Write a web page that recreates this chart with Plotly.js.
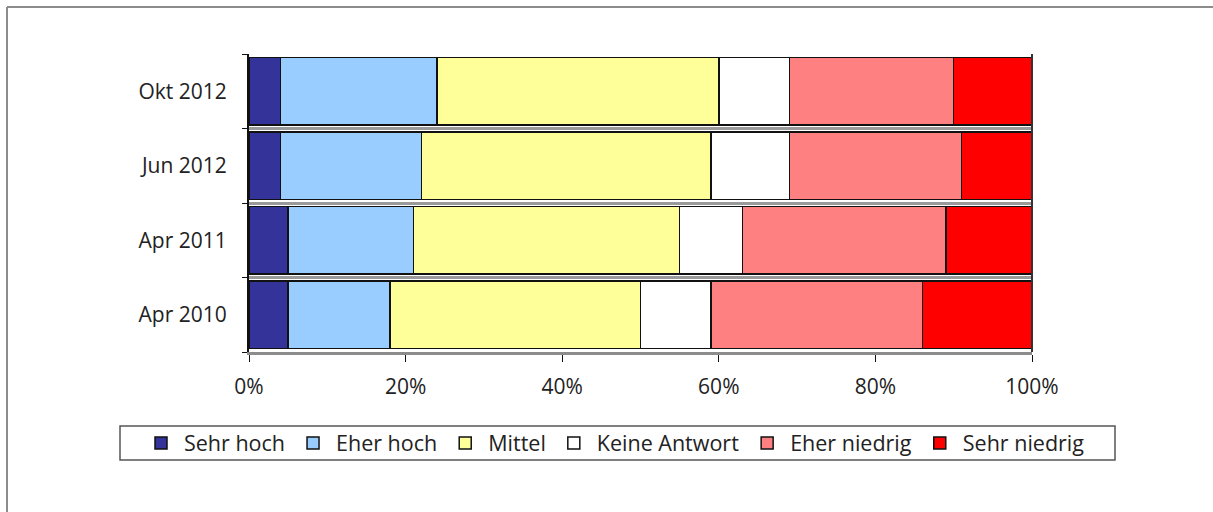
<!DOCTYPE html>
<html>
<head>
<meta charset="utf-8">
<script src="https://cdn.plot.ly/plotly-3.0.1.min.js"></script>
<style>
html,body{margin:0;padding:0;background:#fff;}
#chart{width:1213px;height:512px;}
</style>
</head>
<body>
<div id="chart"></div>
<script>
const categories = ["Apr 2010", "Apr 2011", "Jun 2012", "Okt 2012"];
const seriesNames = ["Sehr hoch", "Eher hoch", "Mittel", "Keine Antwort", "Eher niedrig", "Sehr niedrig"];
const sehrHoch    = [5, 5, 4, 4];
const eherHoch    = [13, 16, 18, 20];
const mittel      = [32, 34, 37, 36];
const keineAntwort= [9, 8, 10, 9];
const eherNiedrig = [27, 26, 22, 21];
const sehrNiedrig = [14, 11, 9, 10];
const tickVals = [0, 20, 40, 60, 80, 100];
const tickText = ["0%", "20%", "40%", "60%", "80%", "100%"];

const seriesValues = [sehrHoch, eherHoch, mittel, keineAntwort, eherNiedrig, sehrNiedrig];
const colors = ["#333399", "#99CCFF", "#FFFF99", "#FFFFFF", "#FF8080", "#FF0000"];

const traces = seriesNames.map((name, i) => ({
  type: "bar",
  orientation: "h",
  name: name,
  y: categories,
  x: seriesValues[i],
  marker: {color: colors[i], line: {color: "#111", width: 1.5}},
  hoverinfo: "name+x"
}));

// plot area: x 249..1032, y 54..352
const W = 1213, H = 512;
const L = 249, R = 1032, T = 54, B = 352;
const px = v => (v - L) / (R - L);
const py = v => (B - v) / (B - T);

const layout = {
  width: W, height: H,
  margin: {l: L, r: W - R, t: T, b: H - B, pad: 0},
  paper_bgcolor: "#fff",
  plot_bgcolor: "#fff",
  barmode: "stack",
  bargap: 0.1,
  showlegend: true,
  font: {family: "Open Sans, sans-serif", size: 21, color: "#222"},
  xaxis: {
    range: [0, 100],
    tickvals: tickVals,
    ticktext: tickText,
    showgrid: false,
    zeroline: false,
    showline: true,
    linecolor: "#8c8c8c",
    linewidth: 3,
    ticks: "outside",
    ticklen: 7,
    tickcolor: "#111",
    tickwidth: 1,
    ticklabelstandoff: 7,
    tickfont: {size: 21, color: "#222"},
    fixedrange: true
  },
  yaxis: {
    type: "category",
    categoryorder: "array",
    categoryarray: categories,
    tickson: "boundaries",
    showgrid: true,
    gridcolor: "#9a9a9a",
    gridwidth: 3,
    showline: true,
    linecolor: "#111",
    linewidth: 2,
    ticks: "outside",
    ticklen: 5,
    tickcolor: "#111",
    ticklabelstandoff: 16,
    tickfont: {size: 21, color: "#222"},
    fixedrange: true
  },
  legend: {
    orientation: "h",
    traceorder: "normal",
    x: px(138), xanchor: "left",
    y: py(443), yanchor: "middle",
    bgcolor: "rgba(0,0,0,0)",
    borderwidth: 0,
    itemwidth: 36,
    font: {size: 21.5, color: "#222"},
    itemclick: false, itemdoubleclick: false
  },
  shapes: [
    // legend box
    {type: "rect", xref: "paper", yref: "paper",
     x0: px(120), x1: px(1115), y0: py(460), y1: py(426),
     line: {color: "#555", width: 1.5}, fillcolor: "rgba(0,0,0,0)", layer: "below"},
    // outer chart frame (left & top)
    {type: "line", xref: "paper", yref: "paper",
     x0: px(7), x1: px(7), y0: py(7), y1: py(520),
     line: {color: "#8c8c8c", width: 2}},
    {type: "line", xref: "paper", yref: "paper",
     x0: px(7), x1: px(1220), y0: py(7), y1: py(7),
     line: {color: "#8c8c8c", width: 2}},
    // right side edge of the 3D plot box
    {type: "line", xref: "paper", yref: "paper",
     x0: 1, x1: 1, y0: 0, y1: 1,
     line: {color: "#333", width: 2}}
  ]
};

Plotly.newPlot("chart", traces, layout, {displayModeBar: false, staticPlot: true});
</script>
</body>
</html>
